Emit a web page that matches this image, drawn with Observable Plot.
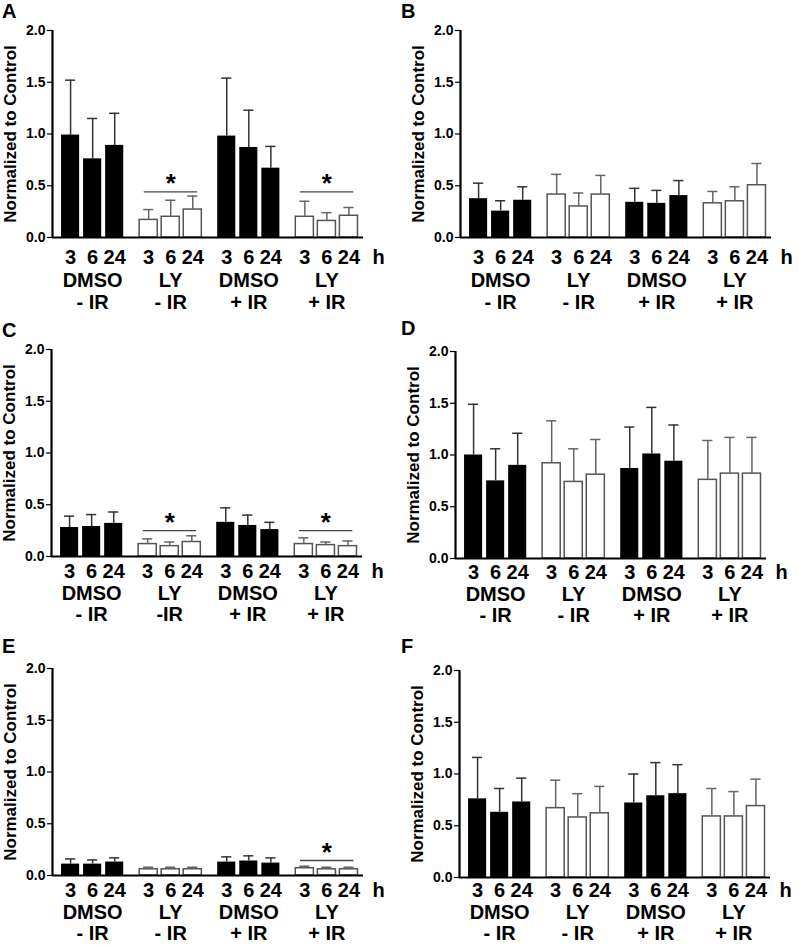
<!DOCTYPE html>
<html><head><meta charset="utf-8">
<script src="https://cdn.jsdelivr.net/npm/d3@7"></script>
<script src="https://cdn.jsdelivr.net/npm/@observablehq/plot@0.6"></script>
<style>
body{margin:0;background:#fff;font-family:"Liberation Sans",Arial,sans-serif;}
#fig{position:relative;width:799px;height:945px;overflow:hidden;background:#fff;}
.panel{position:absolute;}
.letter{position:absolute;font-weight:bold;font-size:20px;line-height:20px;color:#000;}
</style></head><body><div id="fig"></div>
<script>
// ---- data ----
const times = ["3", "6", "24"];
const drugs = ["DMSO", "LY", "DMSO", "LY"];
const irLabels = ["- IR", "- IR", "+ IR", "+ IR"];
const irLabelsC = ["- IR", "-IR", "+ IR", "+ IR"];
const yTicks = [0, 0.5, 1.0, 1.5, 2.0];
const yTitle = "Normalized to Control";

const meanA = [0.99, 0.76, 0.89, 0.17, 0.20, 0.27, 0.98, 0.87, 0.67, 0.20, 0.16, 0.21];
const sdA   = [0.53, 0.39, 0.31, 0.10, 0.16, 0.13, 0.56, 0.36, 0.21, 0.15, 0.08, 0.08];
const sigGroupsA = [1, 3];
const sigLevelA = 0.44;

const meanB = [0.375, 0.255, 0.36, 0.415, 0.30, 0.415, 0.34, 0.33, 0.405, 0.33, 0.35, 0.505];
const sdB   = [0.15, 0.10, 0.13, 0.195, 0.13, 0.185, 0.135, 0.125, 0.145, 0.115, 0.14, 0.21];

const meanC = [0.28, 0.29, 0.32, 0.12, 0.10, 0.14, 0.33, 0.30, 0.26, 0.12, 0.11, 0.10];
const sdC   = [0.11, 0.115, 0.11, 0.05, 0.04, 0.06, 0.14, 0.10, 0.07, 0.06, 0.03, 0.05];
const sigGroupsC = [1, 3];
const sigLevelC = 0.25;

const meanD = [1.00, 0.75, 0.90, 0.92, 0.74, 0.81, 0.87, 1.01, 0.94, 0.76, 0.82, 0.82];
const sdD   = [0.49, 0.31, 0.31, 0.41, 0.32, 0.34, 0.40, 0.45, 0.35, 0.38, 0.35, 0.35];

const meanE = [0.11, 0.11, 0.13, 0.06, 0.06, 0.06, 0.13, 0.14, 0.12, 0.07, 0.06, 0.06];
const sdE   = [0.05, 0.04, 0.04, 0.02, 0.02, 0.02, 0.05, 0.05, 0.05, 0.02, 0.02, 0.02];
const sigGroupsE = [3];
const sigLevelE = 0.145;

const meanF = [0.76, 0.63, 0.73, 0.67, 0.58, 0.62, 0.72, 0.79, 0.81, 0.59, 0.59, 0.69];
const sdF   = [0.40, 0.23, 0.23, 0.27, 0.23, 0.26, 0.28, 0.32, 0.28, 0.27, 0.24, 0.26];

// ---- layout (x in "bar step" units) ----
const PAD = 0.41, GSTEP = 3.54, TSTEP = 1, BW = 0.82, XMAX = 14.1;

const panels = [
  {id: "A", mean: meanA, sd: sdA, ir: irLabels, sig: sigGroupsA, sigY: sigLevelA, left: 0, top: 0, ml: 52, lab: [20, 43, 65], letter: [2, 1]},
  {id: "B", mean: meanB, sd: sdB, ir: irLabels, sig: [], sigY: 0, left: 399, top: 0, ml: 61, lab: [20, 43, 65], letter: [401, 1]},
  {id: "C", mean: meanC, sd: sdC, ir: irLabelsC, sig: sigGroupsC, sigY: sigLevelC, left: 0, top: 319, ml: 51, lab: [15, 37, 58], letter: [2, 320]},
  {id: "D", mean: meanD, sd: sdD, ir: irLabels, sig: [], sigY: 0, left: 399, top: 321, ml: 56, lab: [14, 36, 57], letter: [401, 318]},
  {id: "E", mean: meanE, sd: sdE, ir: irLabels, sig: sigGroupsE, sigY: sigLevelE, left: 0, top: 638, ml: 52, lab: [15, 37, 58], letter: [2, 636]},
  {id: "F", mean: meanF, sd: sdF, ir: irLabels, sig: [], sigY: 0, left: 399, top: 640, ml: 60, lab: [13, 35, 56], letter: [401, 636]}
];

const fig = document.getElementById("fig");

function build(p) {
  const rows = p.mean.map((m, i) => {
    const g = Math.floor(i / 3), t = i % 3;
    const x1 = PAD + g * GSTEP + t * TSTEP;
    return {g, t, x1, x2: x1 + BW, xc: x1 + BW / 2, mean: m, top: m + p.sd[i], black: drugs[g] === "DMSO", time: times[t]};
  });
  const groupRows = drugs.map((d, g) => ({drug: d, ir: p.ir[g], xc: PAD + g * GSTEP + TSTEP + BW / 2}));
  const sigRows = p.sig.map(g => {
    const gl = PAD + g * GSTEP;
    return {x1: gl + 0.21, x2: gl + 2 * TSTEP + BW - 0.19, xc: gl + TSTEP + BW / 2, y: p.sigY};
  });
  const blacks = rows.filter(d => d.black), whites = rows.filter(d => !d.black);
  const width = 400, height = 315;
  const plot = Plot.plot({
    width, height,
    marginLeft: p.ml, marginRight: width - p.ml - 311, marginTop: 30, marginBottom: 78,
    x: {domain: [0, XMAX], axis: null},
    y: {domain: [0, 2], axis: null},
    style: {fontFamily: "'Liberation Sans', Arial, sans-serif", fontWeight: "bold", fontSize: "14px", color: "#000", background: "transparent"},
    marks: [
      Plot.rectY(blacks, {x1: "x1", x2: "x2", y1: 0, y2: "mean", fill: "#000"}),
      Plot.rectY(whites, {x1: "x1", x2: "x2", y1: 0, y2: "mean", fill: "#fff", stroke: "#555", strokeWidth: 1.5}),
      Plot.ruleX(rows, {x: "xc", y1: "mean", y2: "top", stroke: d => d.black ? "#333" : "#666", strokeWidth: 1.5}),
      Plot.ruleY(rows, {y: "top", x1: d => d.xc - 0.23, x2: d => d.xc + 0.23, stroke: d => d.black ? "#333" : "#666", strokeWidth: 1.5}),
      Plot.ruleY([0], {stroke: "#000", strokeWidth: 2.2}),
      Plot.ruleX([0], {stroke: "#000", strokeWidth: 2.2}),
      Plot.axisY({ticks: yTicks, tickFormat: d3.format(".1f"), tickSize: 5, tickPadding: 2, strokeWidth: 1.2, fontSize: 14, fontWeight: "bold", label: null}),
      Plot.text([yTitle], {frameAnchor: "left", textAnchor: "middle", rotate: -90, dx: -42, lineAnchor: "middle", fontSize: 17, fontWeight: "bold"}),
      Plot.text(rows, {x: "xc", text: "time", frameAnchor: "bottom", dy: p.lab[0], lineAnchor: "middle", fontSize: 20, fontWeight: "bold"}),
      Plot.text(["h"], {frameAnchor: "bottom-right", dx: 15, dy: p.lab[0], lineAnchor: "middle", textAnchor: "middle", fontSize: 20, fontWeight: "bold"}),
      Plot.text(groupRows, {x: "xc", text: "drug", frameAnchor: "bottom", dy: p.lab[1], lineAnchor: "middle", fontSize: 20, fontWeight: "bold"}),
      Plot.text(groupRows, {x: "xc", text: "ir", frameAnchor: "bottom", dy: p.lab[2], lineAnchor: "middle", fontSize: 20, fontWeight: "bold"}),
      Plot.ruleY(sigRows, {y: "y", x1: "x1", x2: "x2", stroke: "#444", strokeWidth: 1.3}),
      Plot.text(sigRows, {x: "xc", y: "y", text: () => "*", dy: -8, lineAnchor: "middle", fontSize: 26, fontWeight: "bold"})
    ]
  });
  const wrap = document.createElement("div");
  wrap.className = "panel";
  wrap.style.left = p.left + "px";
  wrap.style.top = p.top + "px";
  wrap.appendChild(plot);
  fig.appendChild(wrap);
  const lt = document.createElement("div");
  lt.className = "letter";
  lt.textContent = p.id;
  lt.style.left = p.letter[0] + "px";
  lt.style.top = p.letter[1] + "px";
  fig.appendChild(lt);
}
panels.forEach(build);
</script>
</body></html>
